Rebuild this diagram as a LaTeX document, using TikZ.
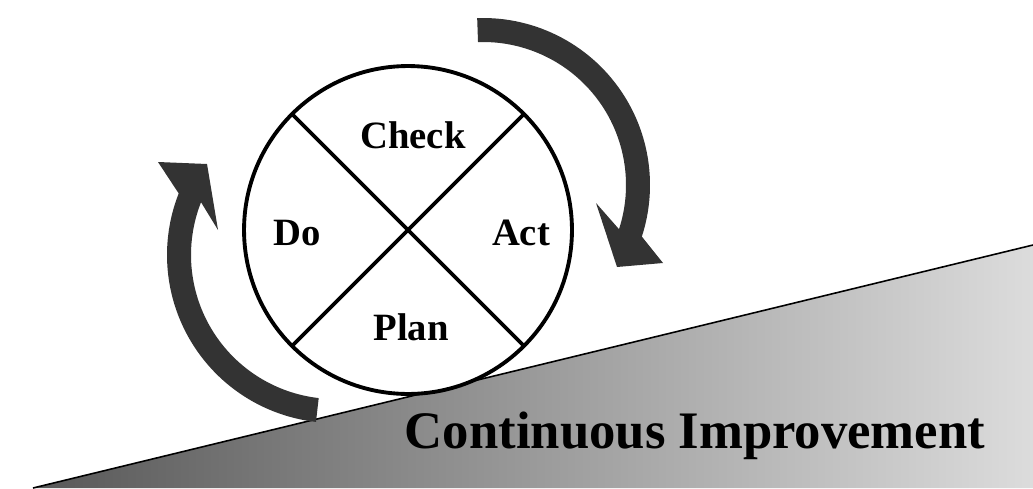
\documentclass[tikz,border=0pt]{standalone}
\usepackage{fontspec}
\setmainfont{Liberation Serif}
\usepackage{tikz}
\definecolor{arrowgray}{HTML}{333333}
\definecolor{slopedark}{RGB}{88,88,88}
\definecolor{slopemid}{RGB}{184,184,184}
\definecolor{slopelight}{RGB}{220,220,220}
\newcommand{\phase}{\fontsize{22}{26}\selectfont\bfseries}
\tikzset{
  phaselabel/.style={anchor=base, inner sep=0pt, font=\phase},
  cycleline/.style={line width=2.2pt},
  turnarrow/.style={fill=arrowgray}
}

\begin{document}
\begin{tikzpicture}[x=0.02cm, y=0.02cm]
        \useasboundingbox (0, 0) rectangle (1033, 488);
        % slope
        \shade[left color=slopedark, middle color=slopemid, right color=slopelight] (33, 0) -- (1033, 243) -- (1033, 0) -- cycle;
        \coordinate (foot) at (33, 0);
        \coordinate (top) at (1033, 243);
        \draw[line width=.9pt] (foot) -- (top);
        % turning arrows
        \coordinate (rc) at (483, 303);
        \coordinate (lc) at (335, 233);
        \fill[turnarrow] ([shift={(92:167)}]rc) arc[start angle=92, end angle=-18, radius=167]
            -- (663, 225) -- (617, 221) -- (596, 285)
            -- ([shift={(-18:143)}]rc) arc[start angle=-18, end angle=92, radius=143] -- cycle;
        \fill[turnarrow] ([shift={(263.5:168)}]lc) arc[start angle=263.5, end angle=158.5, radius=168]
            -- (158, 326) -- (207, 324) -- (218, 258)
            -- ([shift={(158.5:144)}]lc) arc[start angle=158.5, end angle=263.5, radius=144] -- cycle;
        % the cycle
        \node[circle, draw, fill=white, cycleline, minimum size=6.56cm, inner sep=0pt, outer sep=0pt] (pdca) at (408, 258) {};
        \foreach \a/\b in {45/225, 135/315}
        \draw[cycleline] (pdca.\a) -- (pdca.\b);
        \node[phaselabel] (check) at (413, 340) {Check};
        \node[phaselabel] (do) at (297, 243) {Do};
        \node[phaselabel] (act) at (521, 243) {Act};
        \node[phaselabel] (plan) at (411, 148) {Plan};
        \node[anchor=base, inner sep=0pt, font=\fontsize{30}{36}\selectfont\bfseries] (title) at (695, 40) {Continuous Improvement};
\end{tikzpicture}
\end{document}
